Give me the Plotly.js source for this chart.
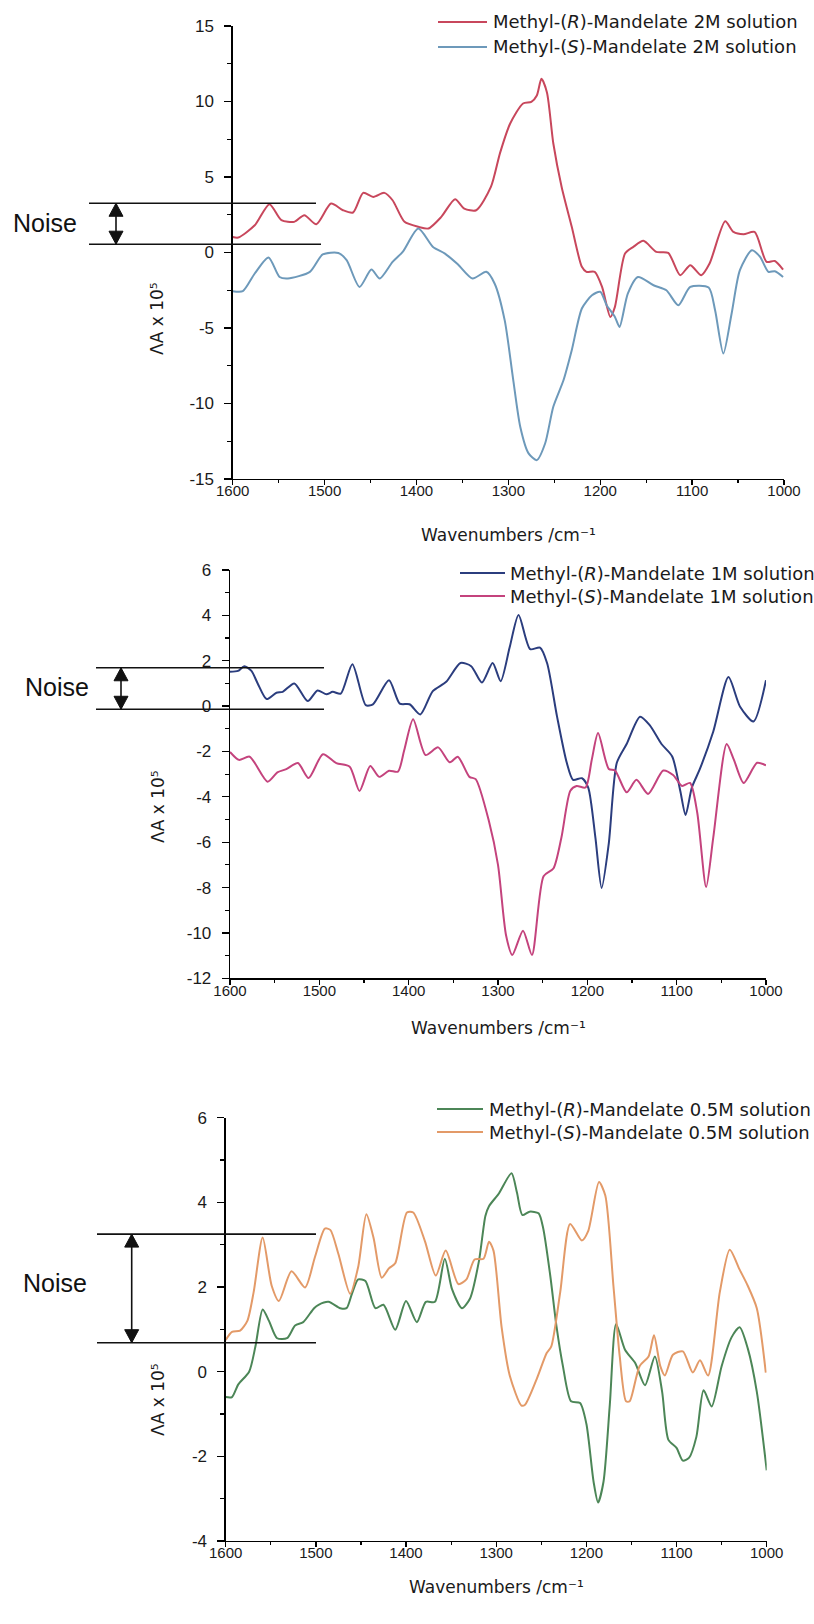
<!DOCTYPE html>
<html>
<head>
<meta charset="utf-8">
<script src="https://cdn.plot.ly/plotly-3.0.1.min.js"></script>
<style>
html,body{margin:0;padding:0;background:#fff;}
#chart{width:814px;height:1624px;}
</style>
</head>
<body>
<div id="chart"></div>
<script>
// ---------------- DATA ----------------
// Panel 1: 2M solutions
const wn2M_R = [1600,1594,1576,1560,1547,1533,1522,1509,1493,1480,1469,1458,1447,1435,1426,1413,1398,1387,1373,1358,1348,1335,1319,1309,1298,1284,1275,1269,1264,1258,1251,1242,1231,1220,1215,1206,1198,1189,1184,1173,1164,1153,1139,1126,1113,1102,1090,1081,1064,1055,1044,1032,1019,1010,1001];
const dA2M_R = [1.03,0.99,1.8,3.2,2.14,2.03,2.47,1.87,3.24,2.8,2.65,3.95,3.68,3.95,3.46,2.03,1.7,1.59,2.36,3.53,2.91,2.8,4.34,6.6,8.54,9.87,9.97,10.4,11.5,10.6,7.2,4.34,1.7,-0.95,-1.28,-1.28,-2.28,-4.27,-3.6,-0.07,0.37,0.77,0.04,-0.03,-1.5,-0.84,-1.5,-0.73,2.07,1.36,1.21,1.36,-0.62,-0.56,-1.13];
const wn2M_S = [1600,1589,1576,1561,1549,1540,1516,1502,1485,1476,1462,1449,1440,1426,1415,1398,1382,1369,1355,1339,1324,1315,1304,1295,1287,1278,1269,1260,1251,1240,1231,1220,1209,1200,1193,1184,1179,1170,1159,1142,1128,1115,1102,1082,1075,1066,1057,1048,1035,1026,1017,1010,1001];
const dA2M_S = [-2.56,-2.56,-1.39,-0.33,-1.62,-1.72,-1.28,-0.13,-0.03,-0.51,-2.28,-1.13,-1.72,-0.62,0.04,1.59,0.37,-0.07,-0.78,-1.72,-1.28,-2.05,-4.48,-8.3,-11.55,-13.3,-13.75,-12.65,-10.2,-8.46,-6.47,-3.71,-2.83,-2.6,-3.49,-4.27,-4.93,-2.72,-1.62,-2.17,-2.5,-3.49,-2.28,-2.32,-3.82,-6.69,-4.04,-1.17,0.15,-0.29,-1.28,-1.24,-1.62];

// Panel 2: 1M solutions
const wn1M_R = [1600,1591,1584,1576,1569,1559,1548,1541,1528,1513,1502,1492,1485,1476,1463,1448,1440,1422,1410,1399,1387,1373,1358,1342,1330,1318,1306,1297,1287,1277,1264,1253,1245,1234,1223,1216,1206,1199,1191,1184,1176,1167,1156,1141,1130,1117,1105,1096,1090,1083,1074,1059,1042,1029,1014,1000];
const dA1M_R = [1.51,1.55,1.76,1.55,1.0,0.31,0.59,0.63,1.0,0.22,0.69,0.52,0.63,0.55,1.85,0.04,0.08,1.14,0.11,0.08,-0.37,0.66,1.07,1.9,1.76,1.04,1.9,1.1,2.58,4.02,2.51,2.58,1.89,-0.44,-2.5,-3.25,-3.18,-3.59,-5.79,-8.02,-6.06,-2.5,-1.67,-0.47,-0.85,-1.67,-2.22,-3.73,-4.8,-3.59,-2.77,-1.12,1.28,-0.03,-0.68,1.14];
const wn1M_S = [1600,1590,1578,1558,1547,1537,1524,1512,1496,1481,1466,1455,1443,1433,1422,1412,1405,1395,1381,1367,1354,1345,1332,1325,1310,1300,1291,1284,1272,1262,1249,1238,1229,1219,1212,1202,1195,1188,1176,1169,1156,1145,1132,1115,1104,1094,1085,1077,1067,1059,1044,1036,1025,1010,1000];
const dA1M_S = [-2.02,-2.37,-2.23,-3.33,-2.92,-2.78,-2.51,-3.17,-2.12,-2.51,-2.67,-3.74,-2.64,-3.12,-2.85,-2.89,-1.95,-0.58,-2.16,-1.82,-2.48,-2.23,-3.12,-3.22,-5.1,-7.0,-10.1,-10.97,-9.9,-10.97,-7.5,-7.16,-5.79,-3.73,-3.52,-3.59,-2.36,-1.19,-2.77,-2.84,-3.8,-3.25,-3.87,-2.84,-3.04,-3.52,-3.39,-4.69,-7.98,-5.79,-1.67,-2.36,-3.39,-2.5,-2.61];

// Panel 3: 0.5M solutions
const wn05M_R = [1600,1593,1586,1574,1567,1559,1552,1543,1532,1523,1514,1502,1497,1486,1473,1466,1460,1453,1445,1434,1425,1412,1400,1388,1378,1368,1357,1349,1338,1329,1319,1312,1308,1297,1283,1277,1271,1263,1253,1248,1240,1233,1226,1217,1207,1200,1192,1187,1181,1174,1167,1157,1146,1135,1124,1116,1109,1100,1093,1086,1078,1070,1061,1050,1039,1030,1021,1011,1000];
const dA05M_R = [-0.6,-0.6,-0.3,0.0,0.6,1.47,1.2,0.79,0.79,1.09,1.17,1.5,1.58,1.65,1.5,1.5,1.84,2.18,2.14,1.5,1.58,0.99,1.67,1.17,1.65,1.65,2.67,1.95,1.5,1.73,2.63,3.68,3.91,4.21,4.69,4.23,3.7,3.78,3.74,3.4,2.26,1.05,0.13,-0.7,-0.74,-1.23,-2.6,-3.09,-2.6,-0.78,1.12,0.51,0.21,-0.32,0.36,-0.47,-1.61,-1.8,-2.1,-2.03,-1.54,-0.44,-0.82,0.13,0.81,1.05,0.55,-0.47,-2.33];
const wn05M_S = [1600,1593,1584,1576,1569,1559,1549,1541,1527,1512,1501,1490,1484,1475,1462,1453,1444,1436,1427,1419,1412,1399,1392,1379,1367,1356,1342,1333,1324,1314,1308,1303,1294,1285,1272,1268,1255,1244,1239,1229,1218,1205,1198,1186,1179,1170,1163,1156,1152,1141,1131,1125,1118,1113,1104,1093,1082,1074,1065,1052,1041,1030,1021,1011,1001];
const dA05M_S = [0.75,0.94,0.97,1.2,1.88,3.17,2.03,1.67,2.37,1.99,2.71,3.38,3.35,2.78,1.84,2.48,3.72,3.16,2.22,2.44,2.56,3.76,3.76,3.08,2.27,2.86,2.07,2.18,2.65,2.67,3.07,2.86,1.05,-0.09,-0.8,-0.78,-0.17,0.44,0.59,1.88,3.49,3.1,3.32,4.48,4.16,2.03,0.36,-0.7,-0.7,0.13,0.36,0.86,0.13,-0.09,0.4,0.48,-0.02,0.27,-0.09,1.88,2.88,2.41,2.03,1.5,-0.02];

// Series names
const names2M = ['Methyl-(<i>R</i>)-Mandelate 2M solution','Methyl-(<i>S</i>)-Mandelate 2M solution'];
const names1M = ['Methyl-(<i>R</i>)-Mandelate 1M solution','Methyl-(<i>S</i>)-Mandelate 1M solution'];
const names05M = ['Methyl-(<i>R</i>)-Mandelate 0.5M solution','Methyl-(<i>S</i>)-Mandelate 0.5M solution'];

// Tick labels
const xTickVals = [1600,1500,1400,1300,1200,1100,1000];
const xTickText = ['1600','1500','1400','1300','1200','1100','1000'];
const y1TickVals = [15,10,5,0,-5,-10,-15];
const y1TickText = ['15','10','5','0','-5','-10','-15'];
const y2TickVals = [6,4,2,0,-2,-4,-6,-8,-10,-12];
const y2TickText = ['6','4','2','0','-2','-4','-6','-8','-10','-12'];
const y3TickVals = [6,4,2,0,-2,-4];
const y3TickText = ['6','4','2','0','-2','-4'];

// Axis titles
const xTitle = 'Wavenumbers /cm\u207B\u00B9';
const yTitle = '\u039BA x 10\u2075';

// Noise band limits (ΔA x 10^5) for each panel
const noiseTop = [3.26, 1.69, 3.25];
const noiseBottom = [0.55, -0.14, 0.685];

// ---------------- LAYOUT ----------------
const W = 814, H = 1624;
const fx = v => v / W;
const fy = v => 1 - v / H;

const colors = {
  r2: '#c8475c', s2: '#6d99ba',
  r1: '#2b3d7e', s1: '#c4437d',
  r05: '#4c8657', s05: '#e39a68'
};

const series = [
  { x: wn2M_R, y: dA2M_R, name: names2M[0], color: colors.r2, panel: 0, row: 0 },
  { x: wn2M_S, y: dA2M_S, name: names2M[1], color: colors.s2, panel: 0, row: 1 },
  { x: wn1M_R, y: dA1M_R, name: names1M[0], color: colors.r1, panel: 1, row: 0 },
  { x: wn1M_S, y: dA1M_S, name: names1M[1], color: colors.s1, panel: 1, row: 1 },
  { x: wn05M_R, y: dA05M_R, name: names05M[0], color: colors.r05, panel: 2, row: 0 },
  { x: wn05M_S, y: dA05M_S, name: names05M[1], color: colors.s05, panel: 2, row: 1 }
];
const xRefs = ['x', 'x2', 'x3'];
const yRefs = ['y', 'y2', 'y3'];

const data = series.map(s => ({
  type: 'scatter', mode: 'lines', x: s.x, y: s.y, name: s.name,
  xaxis: xRefs[s.panel], yaxis: yRefs[s.panel], showlegend: false,
  line: { color: s.color, width: 2, shape: 'spline', smoothing: 0.7 }
}));

const xTickFont = { family: 'Liberation Sans, Arial, sans-serif', size: 15, color: '#1a1a1a' };
const yTickFont = { family: 'Liberation Sans, Arial, sans-serif', size: 17, color: '#1a1a1a' };

function xAxis(dom, anchor) {
  return {
    domain: dom, anchor, range: [1600, 1000], autorange: false,
    tickmode: 'array', tickvals: xTickVals, ticktext: xTickText,
    ticks: 'outside', ticklen: 5, tickwidth: 1.3, tickcolor: '#000',
    ticklabelstandoff: -7,
    showline: true, linecolor: '#000', linewidth: 1.3,
    showgrid: false, zeroline: false,
    minor: { ticks: 'outside', ticklen: 3, tickwidth: 1.2, tickcolor: '#000', dtick: 50, tick0: 1000, showgrid: false },
    tickfont: xTickFont
  };
}
function yAxis(dom, anchor, range, tv, tt, minorStep) {
  return {
    domain: dom, anchor, range, autorange: false,
    tickmode: 'array', tickvals: tv, ticktext: tt,
    ticks: 'outside', ticklen: 7, tickwidth: 1.3, tickcolor: '#000',
    ticklabelstandoff: 7,
    showline: true, linecolor: '#000', linewidth: 1.3,
    showgrid: false, zeroline: false,
    minor: { ticks: 'outside', ticklen: 4, tickwidth: 1.2, tickcolor: '#000', dtick: minorStep, tick0: 0, showgrid: false },
    tickfont: yTickFont
  };
}

// pixel geometry of the three panels
const P = [
  { l: 232.7, r: 784, t: 26, b: 479, xTitleY: 535, arrowX: 116, lineL: 89, lineR: [316, 321], noiseX: 44.5, noiseY: 223, yTitleX: 157, yTitleY: 319,
    legLine: [438, 487], legText: 491, legRows: [22, 47] },
  { l: 230, r: 766, t: 570, b: 978.3, xTitleY: 1028, arrowX: 121, lineL: 96, lineR: [324, 324], noiseX: 56.5, noiseY: 687, yTitleX: 158, yTitleY: 807,
    legLine: [460, 505], legText: 508, legRows: [573, 596] },
  { l: 225.7, r: 766.7, t: 1117.7, b: 1541, xTitleY: 1587, arrowX: 131.7, lineL: 97, lineR: [316, 316], noiseX: 55.5, noiseY: 1283, yTitleX: 158, yTitleY: 1400,
    legLine: [437, 483], legText: 487, legRows: [1109, 1132] }
];

const layout = {
  width: W, height: H,
  margin: { l: 0, r: 0, t: 0, b: 0 },
  paper_bgcolor: '#fff', plot_bgcolor: 'rgba(0,0,0,0)',
  font: { family: 'Liberation Sans, Arial, sans-serif', color: '#1a1a1a' },
  showlegend: false,
  xaxis: xAxis([fx(P[0].l), fx(P[0].r)], 'y'),
  yaxis: yAxis([fy(P[0].b), fy(P[0].t)], 'x', [-15, 15], y1TickVals, y1TickText, 2.5),
  xaxis2: xAxis([fx(P[1].l), fx(P[1].r)], 'y2'),
  yaxis2: yAxis([fy(P[1].b), fy(P[1].t)], 'x2', [-12, 6], y2TickVals, y2TickText, 1),
  xaxis3: xAxis([fx(P[2].l), fx(P[2].r)], 'y3'),
  yaxis3: yAxis([fy(P[2].b), fy(P[2].t)], 'x3', [-4, 6], y3TickVals, y3TickText, 1),
  shapes: [],
  annotations: [],
  hovermode: false
};

const ink = '#111';
P.forEach((p, i) => {
  const yr = yRefs[i];
  // noise limit lines
  [noiseTop[i], noiseBottom[i]].forEach((v, j) => {
    layout.shapes.push({
      type: 'line', xref: 'paper', yref: yr,
      x0: fx(p.lineL), x1: fx(p.lineR[j]), y0: v, y1: v,
      line: { color: ink, width: 1.6 }, layer: 'above'
    });
  });
  // double-headed arrow: shaft + two heads (heads sized in pixels)
  layout.shapes.push({
    type: 'line', xref: 'paper', yref: yr,
    x0: fx(p.arrowX), x1: fx(p.arrowX), y0: noiseBottom[i], y1: noiseTop[i],
    line: { color: ink, width: 1.6 }, layer: 'above'
  });
  layout.shapes.push({
    type: 'path', xref: 'paper', yref: yr,
    xsizemode: 'pixel', ysizemode: 'pixel', xanchor: fx(p.arrowX), yanchor: noiseTop[i],
    path: 'M0,0 L-7,-13 L7,-13 Z', fillcolor: ink, line: { color: ink, width: 1 }, layer: 'above'
  });
  layout.shapes.push({
    type: 'path', xref: 'paper', yref: yr,
    xsizemode: 'pixel', ysizemode: 'pixel', xanchor: fx(p.arrowX), yanchor: noiseBottom[i],
    path: 'M0,0 L-7,13 L7,13 Z', fillcolor: ink, line: { color: ink, width: 1 }, layer: 'above'
  });
  // "Noise" label
  layout.annotations.push({
    xref: 'paper', yref: 'paper', x: fx(p.noiseX), y: fy(p.noiseY),
    xanchor: 'center', yanchor: 'middle', showarrow: false,
    text: 'Noise', font: { family: 'Liberation Sans, Arial, sans-serif', size: 25, color: ink }
  });
  // y-axis title
  layout.annotations.push({
    xref: 'paper', yref: 'paper', x: fx(p.yTitleX), y: fy(p.yTitleY),
    xanchor: 'center', yanchor: 'middle', showarrow: false, textangle: -90,
    text: yTitle, font: { family: 'DejaVu Sans, sans-serif', size: 17, color: '#1a1a1a' }
  });
  // x-axis title
  layout.annotations.push({
    xref: 'paper', yref: 'paper', x: fx((p.l + p.r) / 2), y: fy(p.xTitleY),
    xanchor: 'center', yanchor: 'middle', showarrow: false,
    text: xTitle, font: { family: 'DejaVu Sans, sans-serif', size: 17, color: '#1a1a1a' }
  });
});

// legends (one per panel): coloured sample line + label
series.forEach(s => {
  const p = P[s.panel];
  const yRow = fy(p.legRows[s.row]);
  layout.shapes.push({
    type: 'line', xref: 'paper', yref: 'paper',
    x0: fx(p.legLine[0]), x1: fx(p.legLine[1]), y0: yRow, y1: yRow,
    line: { color: s.color, width: 2 }
  });
  layout.annotations.push({
    xref: 'paper', yref: 'paper', x: fx(p.legText), y: yRow,
    xanchor: 'left', yanchor: 'middle', showarrow: false,
    text: s.name, font: { family: 'DejaVu Sans, sans-serif', size: 18, color: '#1a1a1a' }
  });
});

Plotly.newPlot('chart', data, layout, { staticPlot: true, displayModeBar: false });
</script>
</body>
</html>
